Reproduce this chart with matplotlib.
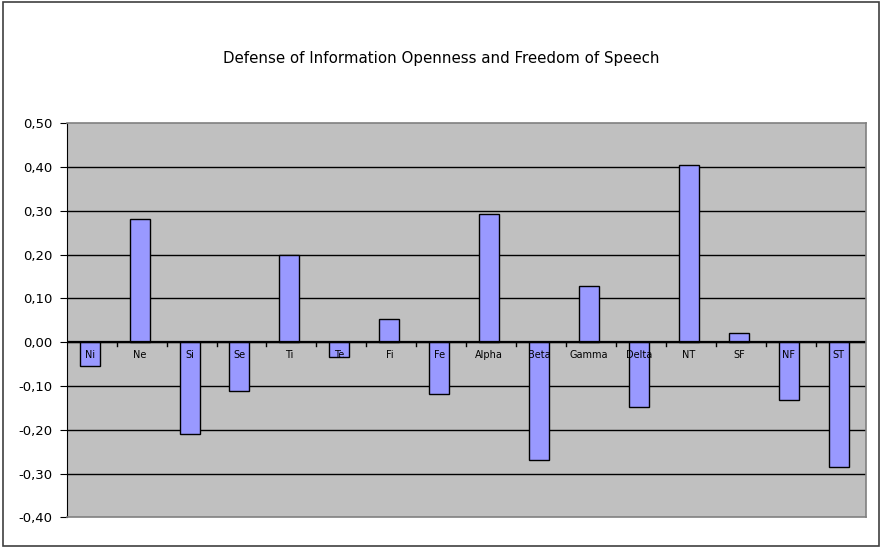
import numpy as np
import matplotlib.pyplot as plt

categories = ['Ni', 'Ne', 'Si', 'Se', 'Ti', 'Te', 'Fi', 'Fe',
              'Alpha', 'Beta', 'Gamma', 'Delta', 'NT', 'SF', 'NF', 'ST']
values = [-0.055, 0.282, -0.210, -0.112, 0.200, -0.033, 0.054, -0.119,
          0.292, -0.269, 0.129, -0.148, 0.404, 0.020, -0.133, -0.285]
yticks = [-0.4, -0.3, -0.2, -0.1, 0.0, 0.1, 0.2, 0.3, 0.4, 0.5]

fig = plt.figure(figsize=(8.82, 5.48), dpi=100)
fig.patch.set_facecolor('white')
# outer border of the chart
fig.add_artist(plt.Rectangle((0.003, 0.004), 0.994, 0.992, transform=fig.transFigure,
                             fill=False, edgecolor='#404040', linewidth=1.2))

ax = fig.add_axes([0.0756, 0.056, 0.906, 0.719])
ax.set_facecolor('#c0c0c0')

x = np.arange(len(categories)) - 0.04
for yv in yticks[1:-1]:
    ax.axhline(yv, color='black', linewidth=1.0, zorder=0.5)
ax.bar(x, values, width=0.4, color='#9999ff', edgecolor='black', linewidth=1.0, zorder=1)
ax.axhline(0, color='black', linewidth=1.6, zorder=2)

for xi, lab in zip(x, categories):
    ax.text(xi, -0.018, lab, ha='center', va='top', fontsize=7, zorder=3)

ax.set_xlim(-0.5, len(categories) - 0.5)
ax.set_ylim(-0.4, 0.5)
ax.set_yticks(yticks)
ax.set_yticklabels([('%.2f' % v).replace('.', ',') for v in yticks], fontsize=9.5)
ax.tick_params(axis='y', direction='out', length=5, color='black', pad=5)

# small ticks between categories on the zero line
ax.set_xticks([])
for xv in np.arange(0.5, len(categories) - 0.5, 1.0):
    ax.plot([xv, xv], [0, -0.008], color='black', linewidth=1.0, zorder=2)

for side in ['top', 'right', 'bottom']:
    ax.spines[side].set_color('#808080')
    ax.spines[side].set_linewidth(1.2)
ax.spines['left'].set_color('black')

fig.text(0.5, 0.893, 'Defense of Information Openness and Freedom of Speech',
         ha='center', va='center', fontsize=10.8)

plt.savefig('out.png', dpi=100)
plt.close()
